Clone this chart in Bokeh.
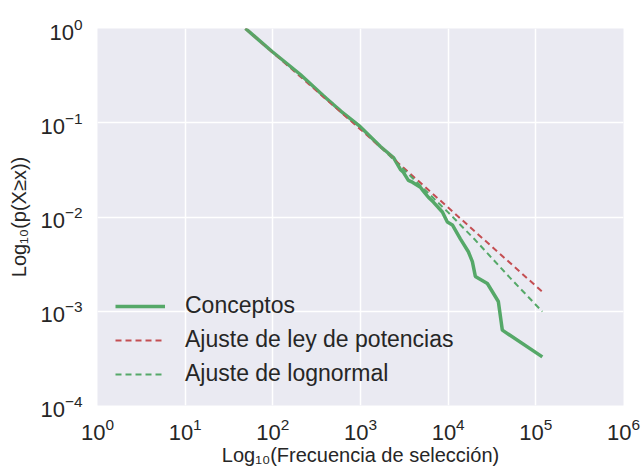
from bokeh.plotting import figure
from bokeh.models import Range1d, FixedTicker
from bokeh.embed import file_html
from bokeh.resources import INLINE

# Data (log-log CCDF)
conceptos_x = [48.7, 98, 206, 380, 590, 954, 1687, 2373, 2851, 3085, 3516, 3908, 4820,
               5213, 5944, 6780, 8590, 9790, 11170, 13770, 17000, 18880, 20420, 28000,
               37350, 41500, 118600]
conceptos_y = [1.0, 0.57, 0.325, 0.192, 0.134, 0.094, 0.056, 0.0428, 0.032, 0.0298, 0.0245,
               0.0234, 0.0207, 0.0188, 0.0162, 0.0144, 0.0113, 0.00886, 0.00824, 0.00587,
               0.00428, 0.00336, 0.00234, 0.00197, 0.00127, 0.00063, 0.000328]

potencia_x = [48.7, 1000, 10000, 118600]
potencia_y = [1.0, 0.085, 0.0126, 0.00161]

lognormal_x = [48.7, 100, 300, 1000, 3000, 10000, 20000, 50000, 118600]
lognormal_y = [1.0, 0.56, 0.235, 0.089, 0.033, 0.0112, 0.0058, 0.0023, 0.00099]

x_ticks = [1, 10, 100, 1000, 10000, 100000, 1000000]
y_ticks = [1e-4, 1e-3, 1e-2, 1e-1, 1]

GREEN = "#55A868"
RED = "#C44E52"
TEXT = "#262626"
FONT = "Liberation Sans"

p = figure(width=643, height=468, x_axis_type="log", y_axis_type="log",
           x_range=Range1d(1, 1e6), y_range=Range1d(1e-4, 1),
           output_backend="svg", toolbar_location=None,
           min_border_left=97, min_border_right=20, min_border_top=28, min_border_bottom=60)

p.background_fill_color = "#EAEAF2"
p.border_fill_color = "white"
p.outline_line_color = None

p.line(conceptos_x, conceptos_y, color=GREEN, line_width=3.5, legend_label="Conceptos")
p.line(potencia_x, potencia_y, color=RED, line_width=2, line_dash="6 4",
       legend_label="Ajuste de ley de potencias")
p.line(lognormal_x, lognormal_y, color=GREEN, line_width=2, line_dash="6 4",
       legend_label="Ajuste de lognormal")

p.xaxis.ticker = FixedTicker(ticks=x_ticks, minor_ticks=[])
p.yaxis.ticker = FixedTicker(ticks=y_ticks, minor_ticks=[])

for ax in (p.xaxis, p.yaxis):
    ax.axis_line_color = None
    ax.major_tick_line_color = None
    ax.minor_tick_line_color = None
    ax.major_label_text_font = FONT
    ax.major_label_text_font_size = "22px"
    ax.major_label_text_color = TEXT
    ax.axis_label_text_font = FONT
    ax.axis_label_text_font_size = "20px"
    ax.axis_label_text_font_style = "normal"
    ax.axis_label_text_color = TEXT

p.xaxis.axis_label = "Log₁₀(Frecuencia de selección)"
p.yaxis.axis_label = "Log₁₀(p(X≥x))"
p.xaxis.major_label_standoff = 6
p.xaxis.axis_label_standoff = 1
p.yaxis.major_label_standoff = 9
p.yaxis.axis_label_standoff = 7

p.xgrid.grid_line_color = "white"
p.ygrid.grid_line_color = "white"
p.xgrid.grid_line_width = 1.5
p.ygrid.grid_line_width = 1.5

leg = p.legend[0]
leg.location = (18, 18)
leg.background_fill_alpha = 0
leg.border_line_color = None
leg.padding = 0
leg.margin = 0
leg.glyph_width = 50
leg.glyph_height = 26
leg.label_height = 26
leg.spacing = 7
leg.label_standoff = 20
leg.label_text_font = FONT
leg.label_text_font_size = "23px"
leg.label_text_color = TEXT

open("out.html", "w").write(file_html(p, INLINE))
